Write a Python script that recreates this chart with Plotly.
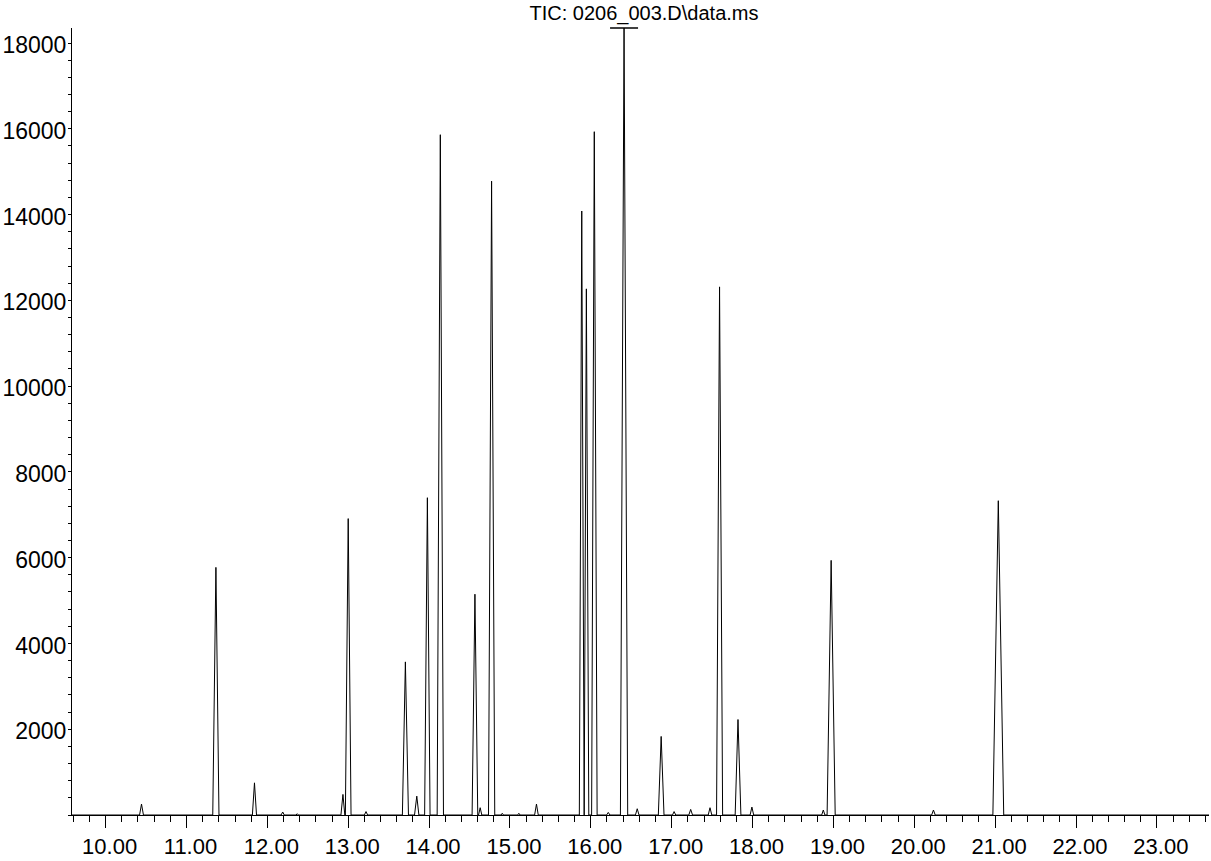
import plotly.graph_objects as go

# Total ion chromatogram, run 0206_003
title_text = "TIC: 0206_003.D\\data.ms"

# Peaks: start / apex / end retention times (min) and apex abundance
peak_start = [10.420, 11.325, 11.815, 12.170, 12.355, 12.910, 12.965, 13.200, 13.670, 13.820,
              13.945, 14.100, 14.532, 14.612, 14.735, 14.890, 15.095, 15.305, 15.858, 15.918,
              16.010, 16.195, 16.366, 16.552, 16.835, 17.010, 17.212, 17.452, 17.555, 17.785,
              17.970, 18.855, 18.922, 20.215, 20.972]
peak_apex = [10.444, 11.364, 11.841, 12.190, 12.370, 12.935, 13.000, 13.220, 13.707, 13.848,
             13.979, 14.139, 14.567, 14.632, 14.773, 14.905, 15.110, 15.328, 15.888, 15.945,
             16.043, 16.216, 16.411, 16.574, 16.870, 17.030, 17.235, 17.474, 17.592, 17.820,
             17.992, 18.875, 18.972, 20.237, 21.039]
peak_end = [10.468, 11.402, 11.866, 12.210, 12.385, 12.958, 13.035, 13.240, 13.745, 13.874,
            14.012, 14.178, 14.602, 14.652, 14.812, 14.920, 15.125, 15.350, 15.916, 15.975,
            16.078, 16.236, 16.456, 16.596, 16.905, 17.050, 17.258, 17.496, 17.630, 17.856,
            18.014, 18.895, 19.022, 20.259, 21.106]
peak_height = [255, 5774, 750, 70, 30, 480, 6911, 80, 3570, 440,
               7398, 15862, 5148, 170, 14779, 40, 40, 255, 14083, 12268,
               15932, 60, 18350, 146, 1832, 80, 130, 170, 12314, 2226,
               185, 116, 5937, 116, 7328]

# Acquisition window and baseline level
run_start, run_end = 9.40, 23.80
baseline = 0

# Display scale
x_range = [9.5844, 23.6445]
y_max = 18350
offscale_peak_rt = 16.411
y_tick_values = [2000, 4000, 6000, 8000, 10000, 12000, 14000, 16000, 18000]
y_tick_text = ["2000", "4000", "6000", "8000", "10000", "12000", "14000", "16000", "18000"]

# Assemble the trace polyline
rt = [run_start]
ab = [baseline]
for s, a, e, h in zip(peak_start, peak_apex, peak_end, peak_height):
    rt += [s, a, e]
    ab += [baseline, h, baseline]
rt.append(run_end)
ab.append(baseline)

FONT = "Liberation Sans, Arial, sans-serif"

fig = go.Figure()
fig.add_trace(go.Scatter(
    x=rt, y=ab, mode="lines",
    line=dict(color="black", width=1),
    hoverinfo="skip", showlegend=False,
))
# Off-scale marker on the clipped peak
fig.add_trace(go.Scatter(
    x=[offscale_peak_rt], y=[y_max], mode="markers",
    marker=dict(symbol="line-ew-open", size=20, color="black",
                line=dict(color="black", width=1.5)),
    cliponaxis=False, hoverinfo="skip", showlegend=False,
))

fig.update_layout(
    width=1211, height=861,
    margin=dict(l=69, r=2, t=28, b=42),
    paper_bgcolor="white", plot_bgcolor="white",
    title=dict(
        text=title_text, x=644 / 1211, xref="container", xanchor="center",
        y=1 - 13 / 861, yref="container", yanchor="middle",
        font=dict(family=FONT, size=20, color="black"),
    ),
    xaxis=dict(
        range=x_range, showgrid=False, zeroline=False,
        showline=True, linecolor="black", linewidth=1,
        tickmode="linear", tick0=10, dtick=1, tickformat=".2f",
        ticks="outside", ticklen=12, tickwidth=1, tickcolor="black",
        ticklabelshift=4,
        tickfont=dict(family=FONT, size=22, color="black"),
        minor=dict(tick0=10, dtick=0.2, ticks="outside", ticklen=6,
                   tickwidth=1, tickcolor="black", showgrid=False),
    ),
    yaxis=dict(
        range=[0, y_max], showgrid=False, zeroline=False,
        showline=True, linecolor="black", linewidth=1,
        tickmode="array", tickvals=y_tick_values, ticktext=y_tick_text,
        ticks="outside", ticklen=3, tickwidth=1, tickcolor="black",
        ticklabelstandoff=-3, ticklabelshift=2,
        tickfont=dict(family=FONT, size=23, color="black"),
        minor=dict(tick0=0, dtick=400, ticks="outside", ticklen=3,
                   tickwidth=1, tickcolor="black", showgrid=False),
    ),
)

fig.write_html("out.html")
